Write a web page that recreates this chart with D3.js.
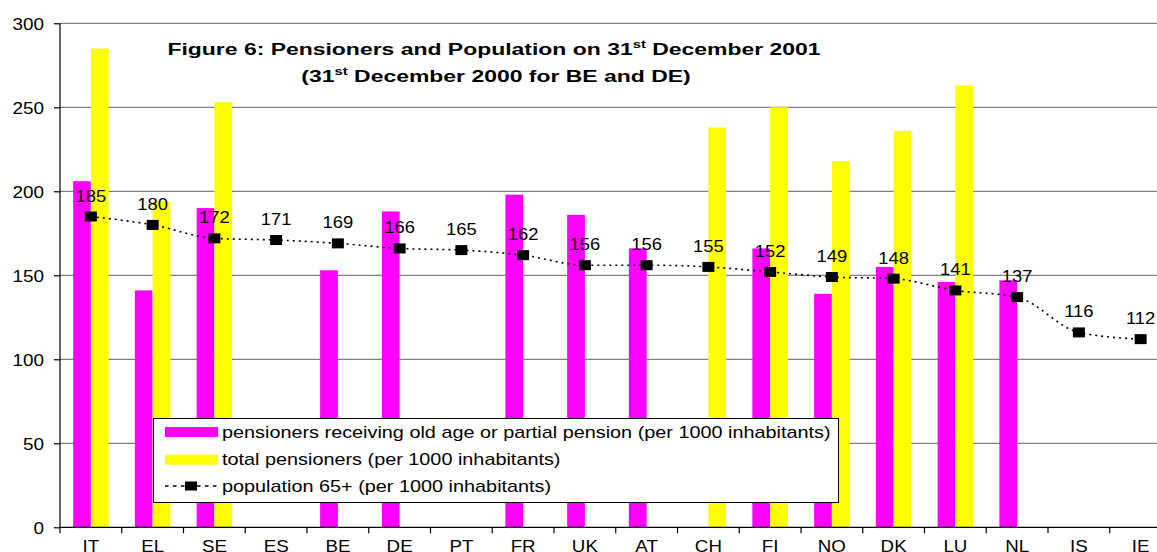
<!DOCTYPE html>
<html><head><meta charset="utf-8">
<script src="https://cdn.jsdelivr.net/npm/d3@7/dist/d3.min.js"></script>
<style>body{margin:0;background:#fff;overflow:hidden}svg{display:block}text{font-family:Arial,"Liberation Sans",sans-serif}</style>
</head><body><svg id="c" width="1157" height="552"></svg>
<script>
const categories = ["IT","EL","SE","ES","BE","DE","PT","FR","UK","AT","CH","FI","NO","DK","LU","NL","IS","IE"];
const oldAgePensioners = [206,141,190,null,153,188,null,198,186,166,null,166,139,155,146,147,null,null];
const totalPensioners = [285,194,253,null,null,null,null,null,null,null,238,250,218,236,263,null,null,null];
const population65 = [185,180,172,171,169,166,165,162,156,156,155,152,149,148,141,137,116,112];
const yTicks = [0,50,100,150,200,250,300];
const seriesNames = ["pensioners receiving old age or partial pension (per 1000 inhabitants)","total pensioners (per 1000 inhabitants)","population 65+ (per 1000 inhabitants)"];

const svg = d3.select("#c");
const L = 60, T = 23.3, B = 527.3, band = 61.75;
const R = L + band * categories.length;
const x = d3.scaleBand().domain(categories).range([L, R]).paddingInner(0).paddingOuter(0);
const y = d3.scaleLinear().domain([0,300]).range([B, T]);
const groupW = 35.5, barW = groupW/2;

// horizontal stretch helper: moves x/y into a transform and scales horizontally
function stretch(sel, k) {
  sel.each(function(){
    const t = d3.select(this);
    const tx = +t.attr("x") || 0, ty = +t.attr("y") || 0;
    const prev = t.attr("transform") || "";
    t.attr("x", 0).attr("y", 0).attr("transform", `${prev} translate(${tx},${ty}) scale(${k},1)`);
  });
}

// gridlines
svg.append("g").selectAll("line").data(yTicks.filter(d=>d>0)).join("line")
  .attr("x1", L).attr("x2", R).attr("y1", d=>y(d)).attr("y2", d=>y(d))
  .attr("stroke", "#808080").attr("stroke-width", 1.2);

// bars
const g = svg.append("g");
g.selectAll("rect.m").data(categories.map((c,i)=>({c,v:oldAgePensioners[i]})).filter(d=>d.v!=null)).join("rect")
  .attr("x", d=>x(d.c)+band/2-groupW/2).attr("width", barW)
  .attr("y", d=>y(d.v)).attr("height", d=>B-y(d.v)).attr("fill", "#ff00ff");
g.selectAll("rect.yl").data(categories.map((c,i)=>({c,v:totalPensioners[i]})).filter(d=>d.v!=null)).join("rect")
  .attr("x", d=>x(d.c)+band/2).attr("width", barW)
  .attr("y", d=>y(d.v)).attr("height", d=>B-y(d.v)).attr("fill", "#ffff00");

// axes
const yAxis = d3.axisLeft(y).tickValues(yTicks).tickSize(6).tickPadding(10);
const ya = svg.append("g").attr("transform", `translate(${L},0)`).call(yAxis);
ya.select(".domain").attr("stroke", "#000").attr("stroke-width", 1.2).attr("d", `M0,${B}V${T}`);
ya.selectAll(".tick line").attr("stroke", "#000").attr("stroke-width", 1.2);
ya.selectAll("text").attr("font-size", 16).attr("fill", "#000").attr("dy", "0.36em");
stretch(ya.selectAll("text"), 1.18);

const xa = svg.append("g").attr("transform", `translate(0,${B})`);
xa.append("line").attr("x1", L).attr("x2", R).attr("stroke", "#000").attr("stroke-width", 1.2);
xa.selectAll("line.t").data(d3.range(categories.length+1)).join("line")
  .attr("x1", i=>L+i*band).attr("x2", i=>L+i*band).attr("y1", 0).attr("y2", 6)
  .attr("stroke", "#000").attr("stroke-width", 1.2);
const xl = xa.selectAll("text").data(categories).join("text")
  .attr("x", d=>x(d)+band/2).attr("y", 25).attr("text-anchor", "middle")
  .attr("font-size", 16).text(d=>d);
stretch(xl, 1.17);

// line
const pts = categories.map((c,i)=>({c,v:population65[i]}));
const line = d3.line().x(d=>x(d.c)+band/2).y(d=>y(d.v)).curve(d3.curveMonotoneX);
svg.append("path").datum(pts).attr("d", line).attr("fill", "none")
  .attr("stroke", "#000").attr("stroke-width", 1.6).attr("stroke-dasharray", "2,4");
svg.append("g").selectAll("rect").data(pts).join("rect")
  .attr("x", d=>x(d.c)+band/2-6).attr("y", d=>y(d.v)-5).attr("width", 12).attr("height", 10).attr("fill", "#000");
const dl = svg.append("g").selectAll("text").data(pts).join("text")
  .attr("x", d=>x(d.c)+band/2).attr("y", d=>y(d.v)-15).attr("text-anchor", "middle")
  .attr("font-size", 16).text(d=>d.v);
stretch(dl, 1.15);

// title
const t1 = svg.append("text").attr("x", 494).attr("y", 55).attr("text-anchor", "middle")
  .attr("font-size", 17).attr("font-weight", "bold");
t1.append("tspan").text("Figure 6: Pensioners and Population on 31");
t1.append("tspan").attr("font-size", 11).attr("dy", -7).text("st");
t1.append("tspan").attr("dy", 7).text(" December 2001");
const t2 = svg.append("text").attr("x", 496).attr("y", 82).attr("text-anchor", "middle")
  .attr("font-size", 17).attr("font-weight", "bold");
t2.append("tspan").text("(31");
t2.append("tspan").attr("font-size", 11).attr("dy", -7).text("st");
t2.append("tspan").attr("dy", 7).text(" December 2000 for BE and DE)");
stretch(t1, 1.35); stretch(t2, 1.35);

// legend
const lg = svg.append("g");
lg.append("rect").attr("x", 153.5).attr("y", 418.5).attr("width", 685).attr("height", 84)
  .attr("fill", "#fff").attr("stroke", "#000").attr("stroke-width", 1);
const rowsY = [432, 459.7, 486];
lg.append("rect").attr("x", 165).attr("y", rowsY[0]-5).attr("width", 53).attr("height", 10).attr("fill", "#ff00ff");
lg.append("rect").attr("x", 165).attr("y", rowsY[1]-5).attr("width", 53).attr("height", 10).attr("fill", "#ffff00");
lg.append("line").attr("x1", 165).attr("x2", 217).attr("y1", rowsY[2]).attr("y2", rowsY[2])
  .attr("stroke", "#000").attr("stroke-width", 1.6).attr("stroke-dasharray", "3.5,4.5");
lg.append("rect").attr("x", 185).attr("y", rowsY[2]-4.5).attr("width", 12).attr("height", 9).attr("fill", "#000");
const lt = lg.selectAll("text").data(seriesNames).join("text")
  .attr("x", 222).attr("y", (d,i)=>rowsY[i]).attr("dy", "0.36em").attr("font-size", 16).text(d=>d);
stretch(lt, 1.24);
</script></body></html>
